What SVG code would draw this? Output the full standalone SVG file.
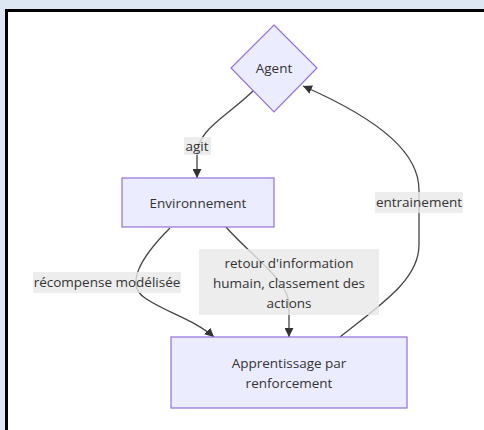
<svg xmlns="http://www.w3.org/2000/svg" width="484" height="430" viewBox="0 0 484 430">
<defs>
<marker id="arr" viewBox="0 0 10 10" refX="10" refY="5" markerUnits="userSpaceOnUse" markerWidth="9" markerHeight="9" orient="auto">
<path d="M0,0 L10,5 L0,10 z" fill="#333"/>
</marker>
<style>
.node{fill:#ECECFF;stroke:#9370DB;stroke-width:1.2}
.t{font-family:"Open Sans","Liberation Sans",sans-serif;font-size:13.5px;fill:#333;text-anchor:middle}
.edge{fill:none;stroke:#444;stroke-width:1.3;marker-end:url(#arr)}
.lbl{fill:#e8e8e8;fill-opacity:0.8}
</style>
</defs>
<rect x="0" y="0" width="484" height="430" fill="#dde7f3"/>
<rect x="6.5" y="10.5" width="490" height="430" fill="#fff" stroke="#000" stroke-width="3"/>
<g id="connectors">
<path class="edge" d="M253,91 C225,118 197,130 197,155 L197,178"/>
<path class="edge" d="M170,228 C140,258 125,285 145,298 C165,312 195,320 214,337"/>
<path class="edge" d="M226,227 C250,255 289,280 289,305 L289,337"/>
<path class="edge" d="M340,337 C380,305 419,280 419,245 L419,190 C419,155 385,122 303,86"/>
<g id="edge-labels">
<rect class="lbl" x="184" y="137" width="27" height="18"/>
<text class="t" x="197" y="151">agit</text>
<rect class="lbl" x="33" y="272" width="148" height="21"/>
<text class="t" x="107" y="287">récompense modélisée</text>
<rect class="lbl" x="199" y="249" width="180" height="66"/>
<text class="t" x="289" y="268">retour d'information</text>
<text class="t" x="289" y="288">humain, classement des</text>
<text class="t" x="289" y="308">actions</text>
<rect class="lbl" x="375" y="192" width="88" height="21"/>
<text class="t" x="419" y="207">entrainement</text>
</g>
</g>
<g id="agent">
<polygon class="node" points="274,25 317,68 274,112 231,68"/>
<text class="t" x="274" y="73">Agent</text>
</g>
<g id="environnement">
<rect class="node" x="122" y="178" width="152" height="49"/>
<text class="t" x="198" y="208">Environnement</text>
</g>
<g id="apprentissage">
<rect class="node" x="171" y="337" width="236" height="71"/>
<text class="t" x="289" y="368">Apprentissage par</text>
<text class="t" x="289" y="388">renforcement</text>
</g>
</svg>
